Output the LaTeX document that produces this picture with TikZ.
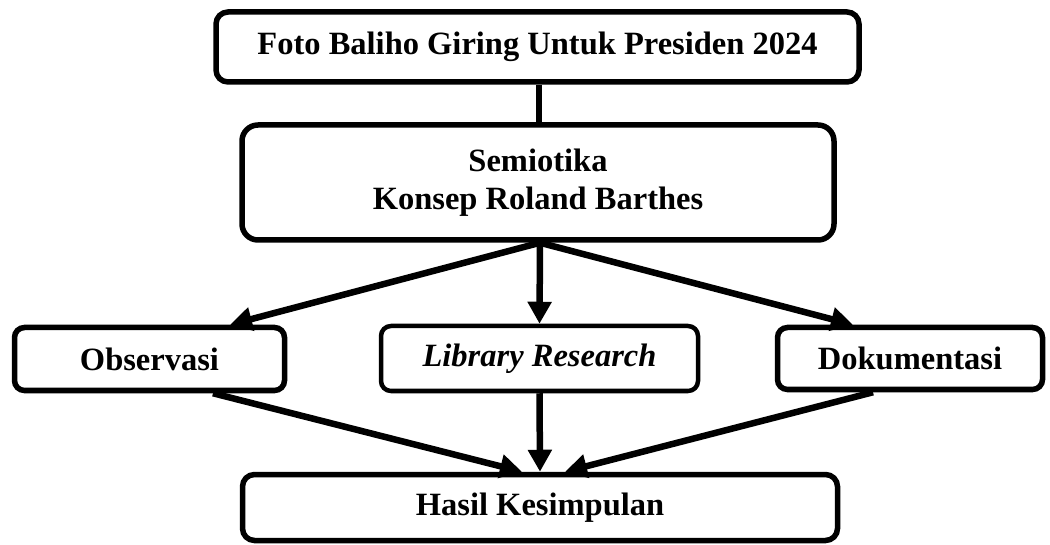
\documentclass[tikz,border=0pt]{standalone}
\usepackage{fontspec}
\setmainfont{Liberation Serif}
\usetikzlibrary{arrows.meta,calc}

\tikzset{
  box/.style={draw=black, line width=5.5pt, rounded corners=12pt, fill=white,
    inner sep=0pt, align=center, font=\fontsize{32.5}{38}\selectfont\bfseries},
  thinbox/.style={box, line width=4.5pt},
  link/.style={line width=6.5pt, black},
  arr/.style={link, -{Triangle[length=22pt,width=23pt]}}
}

\begin{document}
\begin{tikzpicture}[x=1pt,y=-1pt]
  \useasboundingbox (0,0) rectangle (1050,545);

  % top: subject of the study
  \node[box, minimum width=643pt, minimum height=70pt] (foto) at (537.5,47)
    {Foto Baliho Giring Untuk Presiden 2024};

  % analysis framework
  \node[box, rounded corners=16pt, minimum width=592pt, minimum height=115pt] (semio) at (538,182.5)
    {Semiotika\\Konsep Roland Barthes};

  % data collection techniques
  \node[box, rounded corners=10pt, minimum width=270pt, minimum height=63pt] (obs) at (149.5,359)
    {Observasi};
  \node[thinbox, rounded corners=10pt, minimum width=317pt, minimum height=65pt] (lib) at (539.5,358.5)
    {\itshape Library Research};
  \node[box, rounded corners=10pt, minimum width=265pt, minimum height=62pt] (dok) at (910,358.5)
    {Dokumentasi};

  % result
  \node[box, rounded corners=12pt, minimum width=595pt, minimum height=66pt] (hasil) at (540,507.5)
    {Hasil Kesimpulan};

  % connectors
  \draw[link] ([xshift=1.5pt]foto.south) coordinate (fs) -- (fs |- semio.north);
  \coordinate (sb) at ($(semio.south)+(2,0)$);
  \draw[arr] (sb) -- ([xshift=80.5pt]obs.north);
  \draw[arr] (sb) -- (lib.north);
  \draw[arr] (sb) -- ([xshift=-57pt]dok.north);

  \draw[arr] ([xshift=63.5pt]obs.south) -- ([xshift=-18pt]hasil.north);
  \draw[arr] (lib.south) -- (hasil.north);
  \draw[arr] ([xshift=-37pt]dok.south) -- ([xshift=25pt]hasil.north);
\end{tikzpicture}
\end{document}
